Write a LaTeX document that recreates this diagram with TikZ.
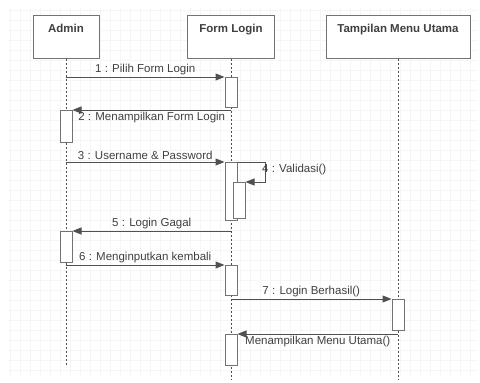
\documentclass[tikz,border=0pt]{standalone}
\usepackage{fontspec}
\setmainfont{Liberation Sans}
\usetikzlibrary{arrows.meta}
\definecolor{ln}{HTML}{505050}
\definecolor{tx}{HTML}{404040}
\tikzset{
  objbox/.style={draw=ln!80, line width=1pt, fill=white, minimum height=43pt, inner sep=0pt},
  objlabel/.style={anchor=north, text=tx, font=\bfseries\fontsize{11.5}{13}\selectfont, inner sep=0pt},
  lifeline/.style={draw=ln, line width=0.8pt, dash pattern=on 2pt off 2pt},
  actbox/.style={draw=ln!80, line width=1pt, fill=white, minimum width=12pt, inner sep=0pt, anchor=north},
  msg/.style={draw=ln, line width=1pt, -{Triangle[length=9pt,width=7pt]}},
  msglabel/.style={text=tx, font=\fontsize{11.5}{13}\selectfont, inner sep=2pt}
}
\begin{document}
\begin{tikzpicture}[x=1pt,y=-1pt]
\useasboundingbox (0,0) rectangle (480,383);
\fill[white] (0,0) rectangle (480,383);
\draw[black!4, step=10pt] (8,8) grid (478,376);
% objects
\node[objbox, minimum width=66pt] (admin) at (66,36.5) {};
\node[objlabel] (adminT) at ([yshift=-9pt]admin.north) {Admin};
\node[objbox, minimum width=87pt] (form) at (231,36.5) {};
\node[objlabel] (formT) at ([yshift=-9pt]form.north) {Form Login};
\node[objbox, minimum width=144pt] (menu) at (398,36.5) {};
\node[objlabel] (menuT) at ([yshift=-9pt]menu.north) {Tampilan Menu Utama};
% lifeline ends
\coordinate (adminEnd) at (66,366);
\coordinate (formEnd) at (231,380);
\coordinate (menuEnd) at (398,380);
\draw[lifeline] (admin.south) -- (adminEnd);
\draw[lifeline] (form.south) -- (formEnd);
\draw[lifeline] (menu.south) -- (menuEnd);
% activations
\node[actbox, minimum height=30pt] (f1) at (231,77) {};
\node[actbox, minimum height=32pt] (a1) at (66,110) {};
\node[actbox, minimum height=58pt] (f2) at (231,162) {};
\node[actbox, minimum height=36pt] (f3) at (239,182) {};
\node[actbox, minimum height=31pt] (a2) at (66,231) {};
\node[actbox, minimum height=30pt] (f4) at (231,265) {};
\node[actbox, minimum height=31pt] (t1) at (398,299) {};
\node[actbox, minimum height=31pt] (f5) at (231,334) {};
% messages
\draw[msg] (admin.south |- f1.north) -- node[msglabel, above] (m1) {1 : Pilih Form Login} (f1.north west);
\draw[msg] (form.south |- a1.north) -- node[msglabel, below] (m2) {2 : Menampilkan Form Login} (a1.north east);
\draw[msg] (admin.south |- f2.north) -- node[msglabel, above] (m3) {3 : Username \& Password} (f2.north west);
\coordinate (selfx) at (265,170);
\draw[msg] (f2.north east) -- (f2.north east -| selfx) |- (f3.north east);
\node[msglabel, anchor=west] (m4) at (260,170) {4 : Validasi()};
\draw[msg] (form.south |- a2.north) -- node[msglabel, above] (m5) {5 : Login Gagal} (a2.north east);
\draw[msg] (admin.south |- f4.north) -- node[msglabel, above] (m6) {6 : Menginputkan kembali} (f4.north west);
\draw[msg] (form.south |- t1.north) -- node[msglabel, above] (m7) {7 : Login Berhasil()} (t1.north west);
\draw[msg] (menu.south |- f5.north) -- node[msglabel, below] (m8) {Menampilkan Menu Utama()} (f5.north east);
\end{tikzpicture}
\end{document}
